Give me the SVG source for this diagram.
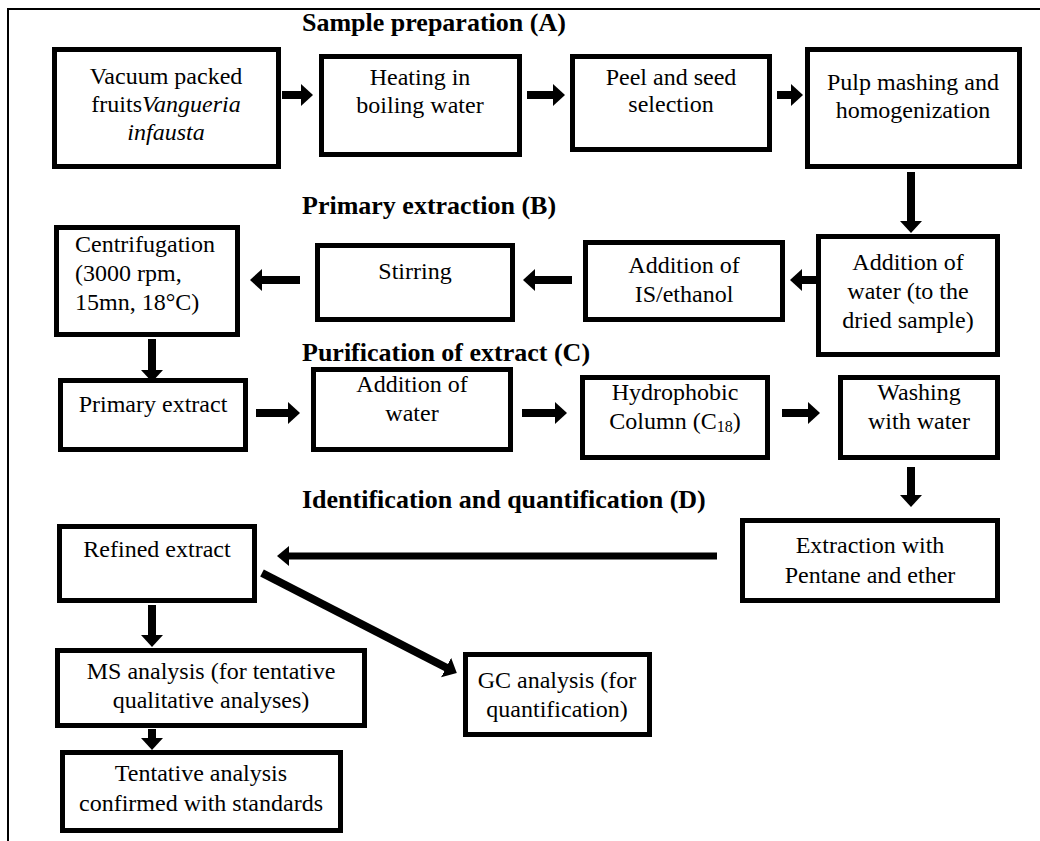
<svg xmlns="http://www.w3.org/2000/svg" width="1040" height="841" viewBox="0 0 1040 841">
<style>
.box{fill:#fff;stroke:#000;stroke-width:5}
.t{font-family:"Liberation Serif","Times New Roman",serif;font-size:24px;fill:#000;text-anchor:middle}
.tl{text-anchor:start}
.h{font-family:"Liberation Serif","Times New Roman",serif;font-size:26px;font-weight:bold;fill:#000}
.c{stroke:#000;stroke-width:8;fill:none;marker-end:url(#ah)}
.frame{stroke:#000;stroke-width:2;fill:none}
</style>
<defs>
<marker id="ah" markerUnits="userSpaceOnUse" markerWidth="13" markerHeight="22" refX="1" refY="11" orient="auto" viewBox="0 0 13 22">
<path d="M0,0 L12,11 L0,22 Z" fill="#000"/>
</marker>
<marker id="ah2" markerUnits="userSpaceOnUse" markerWidth="13" markerHeight="20" refX="1" refY="10" orient="auto" viewBox="0 0 13 20">
<path d="M0,0 L12,10 L0,20 Z" fill="#000"/>
</marker>
</defs>
<rect width="1040" height="841" fill="#fff"/>
<path class="frame" d="M8,841 V9 H1040"/>

<g id="titles">
<text class="h" x="302" y="31">Sample preparation (A)</text>
<text class="h" x="302" y="214">Primary extraction (B)</text>
<text class="h" x="302" y="361">Purification of extract (C)</text>
<text class="h" x="302" y="508">Identification and quantification (D)</text>
</g>

<g id="connectors">
<line class="c" x1="282" y1="95" x2="302" y2="95"/>
<line class="c" x1="527" y1="95" x2="554" y2="95"/>
<line class="c" x1="777" y1="95" x2="792" y2="95"/>
<line class="c" x1="911" y1="172" x2="911" y2="222"/>
<line class="c" x1="816" y1="280" x2="801" y2="280"/>
<line class="c" x1="572" y1="280" x2="534" y2="280"/>
<line class="c" x1="300" y1="280" x2="261" y2="280"/>
<line class="c" x1="152" y1="339" x2="152" y2="371"/>
<line class="c" x1="256" y1="413" x2="289" y2="413"/>
<line class="c" x1="522" y1="413" x2="556" y2="413"/>
<line class="c" x1="782" y1="413" x2="809" y2="413"/>
<line class="c" x1="911" y1="467" x2="911" y2="496"/>
<line class="c" x1="717" y1="556" x2="288" y2="556" style="stroke-width:7;marker-end:url(#ah2)"/>
<line class="c" x1="262" y1="573" x2="447" y2="668"/>
<line class="c" x1="152" y1="605" x2="152" y2="636"/>
<line class="c" x1="152" y1="729" x2="152" y2="739"/>
</g>

<g id="n-vacuum">
<rect class="box" x="54.5" y="49.5" width="224" height="117"/>
<text class="t" x="166" y="84">Vacuum packed</text>
<text class="t" x="166" y="112">fruits<tspan font-style="italic">Vangueria</tspan></text>
<text class="t" x="166" y="140" font-style="italic">infausta</text>
</g>
<g id="n-heating">
<rect class="box" x="321.5" y="56.5" width="198" height="98"/>
<text class="t" x="420" y="85">Heating in</text>
<text class="t" x="420" y="113">boiling water</text>
</g>
<g id="n-peel">
<rect class="box" x="572.5" y="56.5" width="197" height="93"/>
<text class="t" x="671" y="85">Peel and seed</text>
<text class="t" x="671" y="112">selection</text>
</g>
<g id="n-pulp">
<rect class="box" x="807.5" y="49.5" width="212" height="117"/>
<text class="t" x="913" y="90">Pulp mashing and</text>
<text class="t" x="913" y="118">homogenization</text>
</g>

<g id="n-addwater1">
<rect class="box" x="818.5" y="236.5" width="179" height="118"/>
<text class="t" x="908" y="270">Addition of</text>
<text class="t" x="908" y="299">water (to the</text>
<text class="t" x="908" y="328">dried sample)</text>
</g>
<g id="n-addis">
<rect class="box" x="585.5" y="242.5" width="197" height="77"/>
<text class="t" x="684" y="273">Addition of</text>
<text class="t" x="684" y="302">IS/ethanol</text>
</g>
<g id="n-stirring">
<rect class="box" x="317.5" y="245.5" width="195" height="74"/>
<text class="t" x="415" y="279">Stirring</text>
</g>
<g id="n-centrif">
<rect class="box" x="56.5" y="227.5" width="181" height="107"/>
<text class="t tl" x="75" y="252">Centrifugation</text>
<text class="t tl" x="75" y="281">(3000 rpm,</text>
<text class="t tl" x="75" y="310">15mn, 18°C)</text>
</g>

<g id="n-primary">
<rect class="box" x="60.5" y="380.5" width="185" height="69"/>
<text class="t" x="153" y="412">Primary extract</text>
</g>
<g id="n-addwater2">
<rect class="box" x="313.5" y="369.5" width="197" height="80"/>
<text class="t" x="412" y="392">Addition of</text>
<text class="t" x="412" y="421">water</text>
</g>
<g id="n-hydro">
<rect class="box" x="582.5" y="377.5" width="185" height="80"/>
<text class="t" x="675" y="400">Hydrophobic</text>
<text class="t" x="675" y="429">Column (C<tspan font-size="16" dy="3">18</tspan><tspan dy="-3">)</tspan></text>
</g>
<g id="n-washing">
<rect class="box" x="840.5" y="377.5" width="157" height="80"/>
<text class="t" x="919" y="400">Washing</text>
<text class="t" x="919" y="429">with water</text>
</g>

<g id="n-extraction">
<rect class="box" x="742.5" y="520.5" width="255" height="80"/>
<text class="t" x="870" y="553">Extraction with</text>
<text class="t" x="870" y="583">Pentane and ether</text>
</g>
<g id="n-refined">
<rect class="box" x="59.5" y="526.5" width="195" height="74"/>
<text class="t" x="157" y="557">Refined extract</text>
</g>
<g id="n-ms">
<rect class="box" x="57.5" y="650.5" width="307" height="75"/>
<text class="t" x="211" y="679">MS analysis (for tentative</text>
<text class="t" x="211" y="708">qualitative analyses)</text>
</g>
<g id="n-gc">
<rect class="box" x="465.5" y="654.5" width="184" height="80"/>
<text class="t" x="557" y="688">GC analysis (for</text>
<text class="t" x="557" y="717">quantification)</text>
</g>
<g id="n-tentative">
<rect class="box" x="62.5" y="752.5" width="278" height="78"/>
<text class="t" x="201" y="781">Tentative analysis</text>
<text class="t" x="201" y="811">confirmed with standards</text>
</g>
</svg>
